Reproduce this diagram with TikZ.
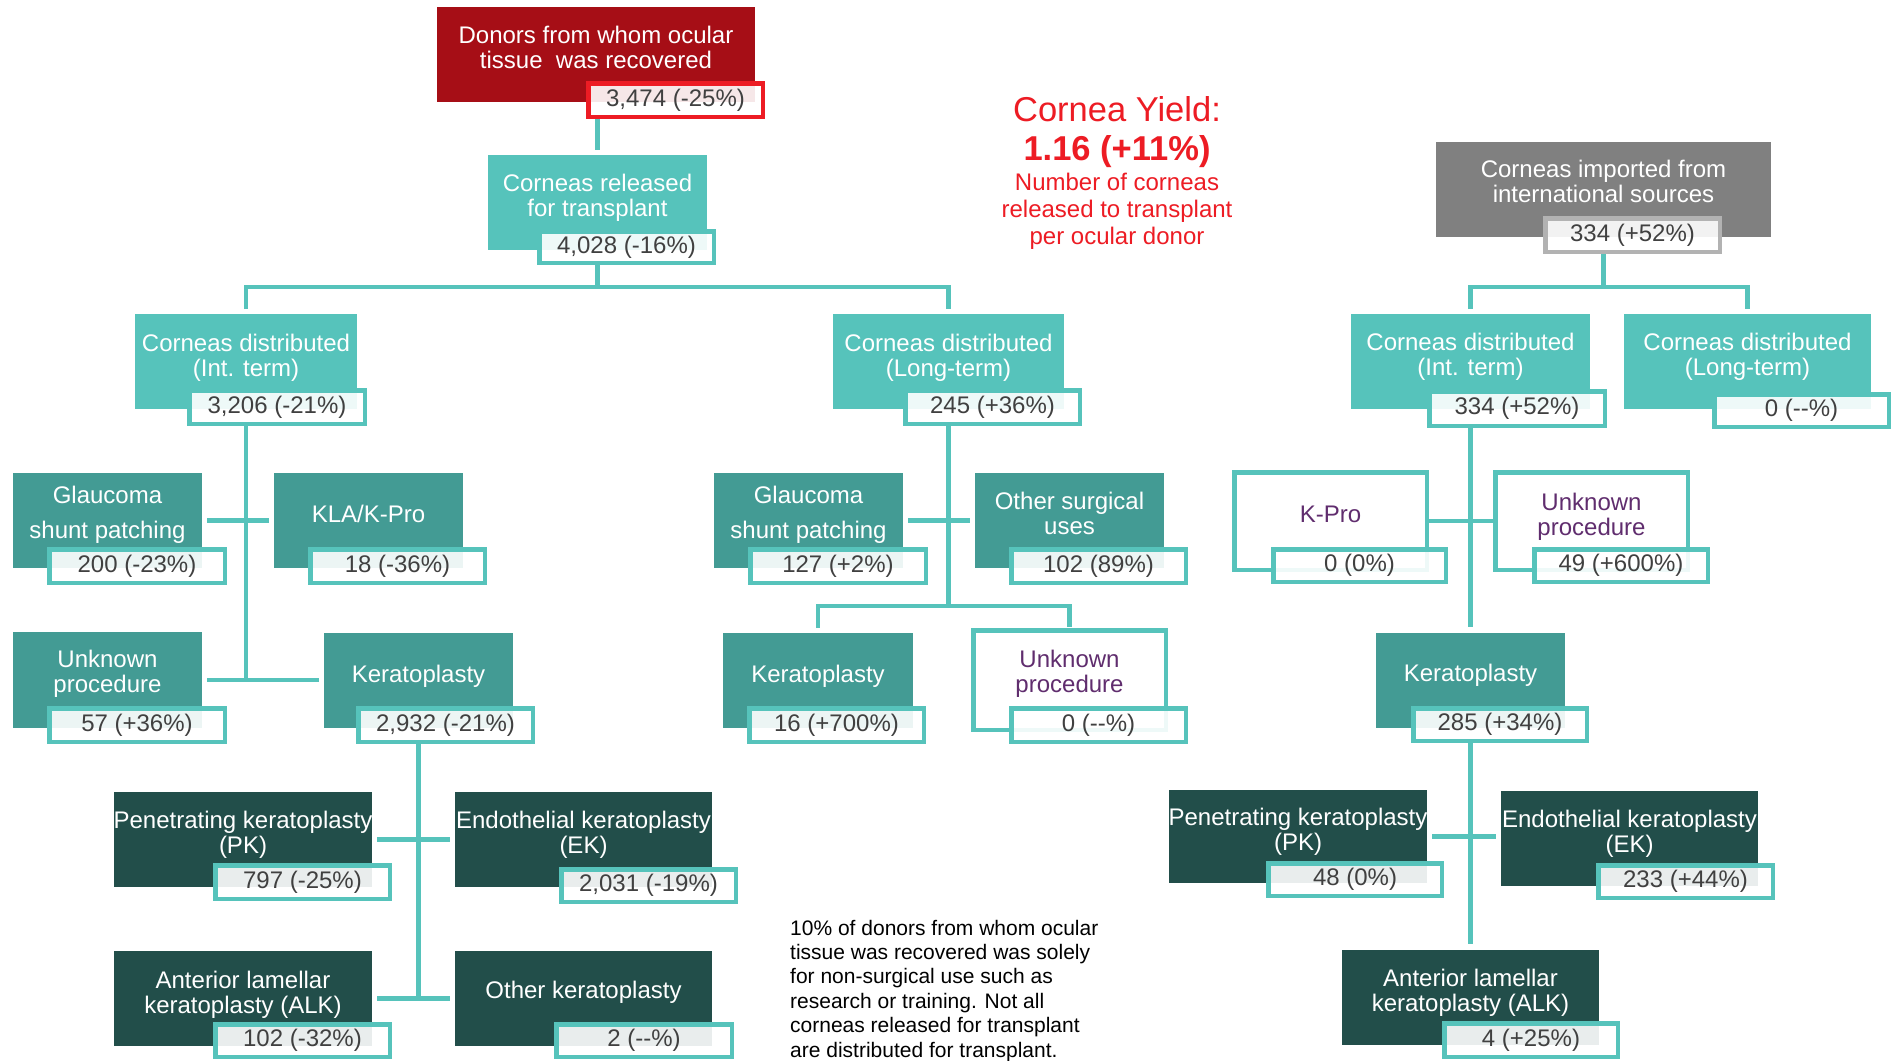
\documentclass[tikz,border=0pt]{standalone}
\usepackage{fontspec}
\setmainfont{Liberation Sans}
\usetikzlibrary{backgrounds}
\definecolor{donorred}{RGB}{166,14,22}
\definecolor{brightred}{RGB}{237,28,36}
\definecolor{tealL}{RGB}{86,195,187}
\definecolor{tealM}{RGB}{67,155,148}
\definecolor{tealD}{RGB}{34,78,74}
\definecolor{grayBox}{RGB}{128,128,128}
\definecolor{grayEdge}{RGB}{178,178,178}
\definecolor{valtext}{RGB}{64,64,64}
\definecolor{purp}{RGB}{96,45,110}
\tikzset{
  boxbase/.style={inner sep=0pt, outer sep=0pt, draw=none},
  fillR/.style={boxbase, fill=donorred},
  fillL/.style={boxbase, fill=tealL},
  fillM/.style={boxbase, fill=tealM},
  fillD/.style={boxbase, fill=tealD},
  fillG/.style={boxbase, fill=grayBox},
  outl/.style={inner sep=0pt, outer sep=0pt, fill=white, draw=tealL, line width=4.5pt},
  val/.style={inner sep=0pt, outer sep=0pt, fill=white, fill opacity=0.9, text opacity=1,
    draw=tealL, draw opacity=1, line width=4.5pt, text=valtext,
    font=\fontsize{24}{24}\selectfont},
  lbl/.style={inner sep=0pt, outer sep=0pt, text=white, align=center, anchor=base,
    font=\fontsize{24}{24.5}\selectfont},
  plbl/.style={lbl, text=purp},
  conn/.style={draw=tealL, line width=4.5pt},
  sh/.style={shorten <=5pt, shorten >=5pt},
}
% label positions below are the baseline of the LAST line of each label
\newcommand{\FlowBox}[6]{\node[#1, minimum width={#5-#3}, minimum height={#6-#4}] (#2) at ({(#3+#5)/2},{(#4+#6)/2}) {};}
\newcommand{\FlowOut}[5]{\node[outl, minimum width={#4-#2-4.5}, minimum height={#5-#3-4.5}] (#1) at ({(#2+#4)/2},{(#3+#5)/2}) {};}
\newcommand{\FlowVal}[7]{\node[val, #1, minimum width={#5-#3-4.5}, minimum height={#6-#4-4.5}] (#2) at ({(#3+#5)/2},{(#4+#6)/2}) {#7};}
\begin{document}
\begin{tikzpicture}[x=1pt,y=-1pt]
\useasboundingbox (0,0) rectangle (1892,1060);

% top
\FlowBox{fillR}{donor}{437}{7}{755}{102}
\node[lbl] (donor-t) at (596,68) {Donors from whom ocular\\tissue~ was recovered};
\FlowVal{draw=brightred}{donor-v}{586}{81}{765}{119}{3,474 (-25\%)}

\FlowBox{fillL}{rel}{488}{155}{707}{250}
\node[lbl] (rel-t) at (597.5,216) {Corneas released\\for transplant};
\FlowVal{}{rel-v}{537}{229}{716}{265}{4,028 (-16\%)}

\FlowBox{fillL}{intL}{135}{314}{357}{409}
\node[lbl] (intL-t) at (246,376) {Corneas distributed\\(Int. term)};
\FlowVal{}{intL-v}{187}{388}{367}{426}{3,206 (-21\%)}

\FlowBox{fillL}{longM}{833}{314}{1064}{409}
\node[lbl] (longM-t) at (948.5,376) {Corneas distributed\\(Long-term)};
\FlowVal{}{longM-v}{903}{388}{1082}{426}{245 (+36\%)}

\FlowBox{fillG}{imp}{1436}{142}{1771}{237}
\node[lbl] (imp-t) at (1603.5,202) {Corneas imported from\\international sources};
\FlowVal{draw=grayEdge}{imp-v}{1543}{216}{1722}{254}{334 (+52\%)}

\FlowBox{fillL}{intR}{1351}{314}{1590}{409}
\node[lbl] (intR-t) at (1470.5,375) {Corneas distributed\\(Int. term)};
\FlowVal{}{intR-v}{1427}{389}{1607}{428}{334 (+52\%)}

\FlowBox{fillL}{longR}{1624}{314}{1871}{409}
\node[lbl] (longR-t) at (1747.5,375) {Corneas distributed\\(Long-term)};
\FlowVal{}{longR-v}{1712}{392}{1891}{429}{0 (-{}-\%)}

% left subtree
\FlowBox{fillM}{glL}{13}{473}{202}{568}
\node[lbl] (glL-t) at (107.5,538) {Glaucoma\\[10pt]shunt patching};
\FlowVal{}{glL-v}{47}{547}{227}{585}{200 (-23\%)}

\FlowBox{fillM}{kla}{274}{473}{463}{568}
\node[lbl] (kla-t) at (368.5,522) {KLA/K-Pro};
\FlowVal{}{kla-v}{308}{547}{487}{585}{18 (-36\%)}

\FlowBox{fillM}{unkL}{13}{632}{202}{728}
\node[lbl] (unkL-t) at (107.5,692) {Unknown\\procedure};
\FlowVal{}{unkL-v}{47}{706}{227}{744}{57 (+36\%)}

\FlowBox{fillM}{kerL}{324}{633}{513}{728}
\node[lbl] (kerL-t) at (418.5,682) {Keratoplasty};
\FlowVal{}{kerL-v}{356}{706}{535}{744}{2,932 (-21\%)}

\FlowBox{fillD}{pkL}{114}{792}{372}{887}
\node[lbl] (pkL-t) at (243,853) {Penetrating keratoplasty\\(PK)};
\FlowVal{}{pkL-v}{213}{863}{392}{901}{797 (-25\%)}

\FlowBox{fillD}{ekL}{455}{792}{712}{887}
\node[lbl] (ekL-t) at (583.5,853) {Endothelial keratoplasty\\(EK)};
\FlowVal{}{ekL-v}{559}{867}{738}{904}{2,031 (-19\%)}

\FlowBox{fillD}{alkL}{114}{951}{372}{1046}
\node[lbl] (alkL-t) at (243,1013) {Anterior lamellar\\keratoplasty (ALK)};
\FlowVal{}{alkL-v}{213}{1022}{392}{1059}{102 (-32\%)}

\FlowBox{fillD}{othK}{455}{951}{712}{1046}
\node[lbl] (othK-t) at (583.5,998) {Other keratoplasty};
\FlowVal{}{othK-v}{554}{1022}{734}{1059}{2 (-{}-\%)}

% middle subtree
\FlowBox{fillM}{glM}{714}{473}{903}{568}
\node[lbl] (glM-t) at (808.5,538) {Glaucoma\\[10pt]shunt patching};
\FlowVal{}{glM-v}{748}{547}{928}{585}{127 (+2\%)}

\FlowBox{fillM}{othS}{975}{473}{1164}{568}
\node[lbl] (othS-t) at (1069.5,534) {Other surgical\\uses};
\FlowVal{}{othS-v}{1009}{547}{1188}{585}{102 (89\%)}

\FlowBox{fillM}{kerM}{723}{633}{913}{728}
\node[lbl] (kerM-t) at (818,682) {Keratoplasty};
\FlowVal{}{kerM-v}{747}{706}{926}{744}{16 (+700\%)}

\FlowOut{unkM}{971}{628}{1168}{732}
\node[plbl] (unkM-t) at (1069.5,692) {Unknown\\procedure};
\FlowVal{}{unkM-v}{1009}{706}{1188}{744}{0 (-{}-\%)}

% right subtree
\FlowOut{kpro}{1232}{470}{1429}{572}
\node[plbl] (kpro-t) at (1330.5,522) {K-Pro};
\FlowVal{}{kpro-v}{1271}{547}{1448}{584}{0 (0\%)}

\FlowOut{unkR}{1493}{470}{1690}{572}
\node[plbl] (unkR-t) at (1591.5,535) {Unknown\\procedure};
\FlowVal{}{unkR-v}{1532}{547}{1710}{584}{49 (+600\%)}

\FlowBox{fillM}{kerR}{1376}{633}{1565}{728}
\node[lbl] (kerR-t) at (1470.5,681) {Keratoplasty};
\FlowVal{}{kerR-v}{1411}{706}{1589}{743}{285 (+34\%)}

\FlowBox{fillD}{pkR}{1169}{790}{1427}{883}
\node[lbl] (pkR-t) at (1298,850) {Penetrating keratoplasty\\(PK)};
\FlowVal{}{pkR-v}{1266}{861}{1444}{898}{48 (0\%)}

\FlowBox{fillD}{ekR}{1501}{791}{1758}{886}
\node[lbl] (ekR-t) at (1629.5,852) {Endothelial keratoplasty\\(EK)};
\FlowVal{}{ekR-v}{1596}{863}{1775}{900}{233 (+44\%)}

\FlowBox{fillD}{alkR}{1342}{950}{1599}{1045}
\node[lbl] (alkR-t) at (1470.5,1011) {Anterior lamellar\\keratoplasty (ALK)};
\FlowVal{}{alkR-v}{1442}{1021}{1620}{1059}{4 (+25\%)}

% cornea yield
\node[inner sep=0pt, anchor=base, text=brightred, font=\fontsize{34.5}{36}\selectfont] (cy1) at (1117,121) {Cornea Yield:};
\node[inner sep=0pt, anchor=base, text=brightred, font=\fontsize{34.5}{36}\selectfont\bfseries] (cy2) at (1117,160) {1.16 (+11\%)};
\node[inner sep=0pt, anchor=base, text=brightred, align=center, font=\fontsize{24}{27}\selectfont] (cy3) at (1117,244) {Number of corneas\\released to transplant\\per ocular donor};

% note
\node[inner sep=0pt, anchor=base west, align=left, font=\fontsize{21}{24.4}\selectfont] (note) at (790,1057) {10\% of donors from whom ocular\\tissue was recovered was solely\\for non-surgical use such as\\research or training. Not all\\corneas released for transplant\\are distributed for transplant.};

% connectors
\coordinate (jTop) at (597.5,287);
\coordinate (jImp) at (1603.5,287);
\coordinate (jMid) at (948.5,606);
\begin{scope}[on background layer]
\fill[white] (0,0) rectangle (1892,1060);
\draw[conn, shorten >=5pt] (donor-v.south -| rel.north) -- (rel.north);
\draw[conn] (rel-v.south -| rel.south) -- (jTop);
\draw[conn, sh] (intL.north) |- (jTop) -| (longM.north);
\draw[conn] (intL-v.south -| intL.south) -- (intL.south |- unkL.east);
\draw[conn, sh] (glL.east) -- (kla.west);
\draw[conn, sh] (unkL.east) -- (unkL.east -| kerL.west);
\draw[conn] (kerL-v.south -| kerL.south) -- (kerL.south |- alkL.east);
\draw[conn, sh] (pkL.east) -- (ekL.west);
\draw[conn, sh] (alkL.east) -- (othK.west);
\draw[conn] (longM-v.south -| longM.south) -- (jMid);
\draw[conn, sh] (glM.east) -- (othS.west);
\draw[conn, shorten <=5pt, shorten >=3pt] (kerM.north) |- (jMid) -| (unkM.north);
\draw[conn] (imp-v.south -| imp.south) -- (jImp);
\draw[conn, sh] (intR.north) |- (jImp) -| (longR.north);
\draw[conn, shorten >=6pt] (intR-v.south -| intR.south) -- (kerR.north);
\draw[conn] (kpro.east) -- (unkR.west);
\draw[conn, shorten >=6pt] (kerR-v.south -| kerR.south) -- (alkR.north);
\draw[conn, sh] (pkR.east) -- (pkR.east -| ekR.west);
\end{scope}
\end{tikzpicture}
\end{document}
